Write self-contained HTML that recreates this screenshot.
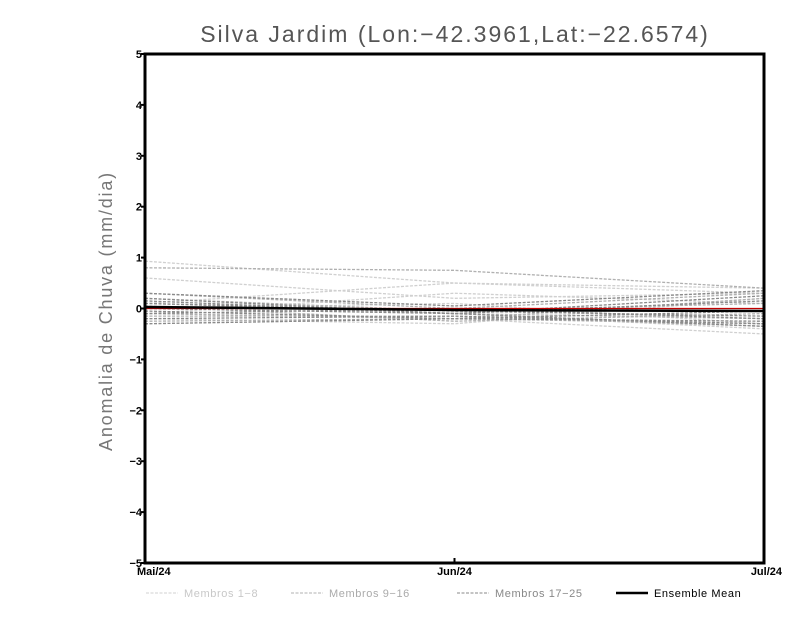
<!DOCTYPE html>
<html><head><meta charset="utf-8"><style>
html,body{margin:0;padding:0;background:#fff;}
svg{display:block;font-family:"Liberation Sans",sans-serif;}
</style></head><body>
<svg id="chart" width="800" height="618" xmlns="http://www.w3.org/2000/svg">
<text x="455" y="42" text-anchor="middle" font-size="23" letter-spacing="2" fill="#555">Silva Jardim (Lon:−42.3961,Lat:−22.6574)</text>
<text transform="translate(112,311) rotate(-90)" text-anchor="middle" font-size="18" letter-spacing="1.8" fill="#777">Anomalia de Chuva (mm/dia)</text>
<g id="series"></g>
<g id="axes"></g>
<g id="legend"></g>
</svg>
<script>
const categories = ["Mai/24","Jun/24","Jul/24"];
const yTicks = [-5,-4,-3,-2,-1,0,1,2,3,4,5];
const members1to8 = [[0.93,0.5,0.3],[0.6,0.2,0.3],[0.1,0.5,0.4],[-0.1,0.3,0.1],[-0.3,-0.2,-0.5],[0.05,-0.1,-0.4],[-0.2,-0.3,0.2],[0.0,0.1,-0.3]];
const members9to16 = [[0.8,0.75,0.4],[0.3,0.0,0.3],[-0.1,-0.2,0.2],[0.1,-0.1,-0.2],[-0.25,-0.2,-0.3],[0.2,-0.05,0.1],[-0.15,-0.15,-0.35],[0.05,-0.25,-0.1]];
const members17to25 = [[0.3,0.05,0.35],[0.2,-0.1,0.15],[-0.05,-0.2,-0.25],[-0.2,-0.15,-0.3],[0.1,-0.05,-0.15],[-0.3,-0.2,-0.05],[0.0,-0.1,0.25],[-0.1,0.0,-0.2],[0.15,-0.1,-0.35]];
const ensembleMean = [0.03,-0.03,-0.05];
const refLine = [0,0,0];

const L=145,R=764,T=54,B=563,NS="http://www.w3.org/2000/svg";
const xs=i=>L+i*(R-L)/(categories.length-1);
const ys=v=>B-(v+5)*(B-T)/10;
function mk(tag,attrs,parent){const e=document.createElementNS(NS,tag);for(const k in attrs)e.setAttribute(k,attrs[k]);parent.appendChild(e);return e;}
const S=document.getElementById('series'),A=document.getElementById('axes'),G=document.getElementById('legend');
function line(vals,color,w,dash,name){
  const p=mk('polyline',{points:vals.map((v,i)=>xs(i)+','+ys(v)).join(' '),fill:'none',stroke:color,'stroke-width':w},S);
  if(dash)p.setAttribute('stroke-dasharray',dash);
  
  
}
members1to8.forEach((m,i)=>line(m,'#d0d0d0',1.3,'3,1.5','member-'+(i+1)));
members9to16.forEach((m,i)=>line(m,'#b0b0b0',1.3,'3,1.5','member-'+(i+9)));
members17to25.forEach((m,i)=>line(m,'#8a8a8a',1.3,'3,1.5','member-'+(i+17)));
line(refLine,'#c00000',1.2,null,'zero-line');
line(ensembleMean,'#000',2.5,null,'ensemble-mean-line');
const fr=mk('rect',{x:L,y:T,width:R-L,height:B-T,fill:'none',stroke:'#000','stroke-width':3},A);


yTicks.forEach(t=>{
  mk('line',{x1:L-4,x2:L,y1:ys(t),y2:ys(t),stroke:'#000','stroke-width':2},A);
  const tx=mk('text',{x:L-3,y:ys(t)+4,'text-anchor':'end','font-size':11,'font-weight':'bold'},A);
  tx.textContent=t<0?'−'+(-t):String(t);
  
  
});
categories.forEach((c,i)=>{
  mk('line',{x1:xs(i),x2:xs(i),y1:B,y2:B-5,stroke:'#000','stroke-width':2},A);
  const anchor=i===0?'start':(i===categories.length-1?'end':'middle');
  const tx=mk('text',{x:xs(i)+(i===0?-8:(i===categories.length-1?18:0)),y:B+12,'text-anchor':anchor,'font-size':11,'font-weight':'bold'},A);
  tx.textContent=c;
  
  
});
const leg=[["Membros 1−8",'#d0d0d0','#c8c8c8',146,1,'3,1.5'],["Membros 9−16",'#b0b0b0','#aaa',291,1,'3,1.5'],["Membros 17−25",'#8a8a8a','#888',457,1,'3,1.5'],["Ensemble Mean",'#000','#000',616,2.5,null]];
leg.forEach(l=>{
  const ln=mk('line',{x1:l[3],x2:l[3]+32,y1:593,y2:593,stroke:l[1],'stroke-width':l[4]},G);
  if(l[5])ln.setAttribute('stroke-dasharray',l[5]);
  
  
  const tx=mk('text',{x:l[3]+38,y:597,'font-size':11,'letter-spacing':'0.6',fill:l[2]},G);
  tx.textContent=l[0];
  
  
});
</script>
</body></html>
